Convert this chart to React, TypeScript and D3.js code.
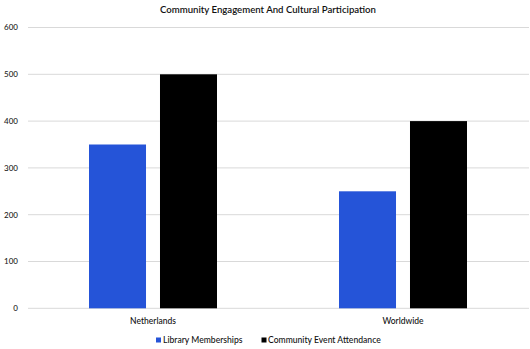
import React from "react";
import * as d3 from "d3";

const categories = ["Netherlands", "Worldwide"];
const seriesNames = ["Library Memberships", "Community Event Attendance"];
const libraryMemberships = [350, 250];
const eventAttendance = [500, 400];
const yTicks = [0, 100, 200, 300, 400, 500, 600];
const colors = ["#2554D8", "#000000"];
const title = "Community Engagement And Cultural Participation";

const W = 530;
const H = 349;
const FONT = "Lato, 'Noto Sans', sans-serif";

export default function App() {
  const left = 28;
  const right = 528;
  const top = 27.5;
  const bottom = 308.3;

  const x0 = d3.scaleBand<string>().domain(categories).range([left, right]).paddingInner(0.488).paddingOuter(0.244);
  const x1 = d3.scaleBand<string>().domain(seriesNames).range([0, x0.bandwidth()]).paddingInner(0.197).paddingOuter(0);
  const y = d3.scaleLinear().domain([0, 600]).range([bottom, top]);
  const values = [libraryMemberships, eventAttendance];

  return (
    <svg width={W} height={H} style={{ position: "absolute", left: 0, top: 0, background: "#fff" }}>
      <text x={268} y={13} textAnchor="middle" fontFamily={FONT} fontSize={9.6} fontWeight={600} fill="#111">
        {title}
      </text>
      {yTicks.map((t) => (
        <g key={t}>
          <line x1={left} x2={right + 1} y1={y(t)} y2={y(t)} stroke="#d9d9d9" strokeWidth={1} />
          <text x={18} y={y(t)} dy="0.35em" textAnchor="end" fontFamily={FONT} fontSize={8} fontWeight={500} fill="#222">
            {t}
          </text>
        </g>
      ))}
      {categories.map((c, ci) => (
        <g key={c}>
          {seriesNames.map((s, si) => (
            <rect
              key={s}
              x={(x0(c) as number) + (x1(s) as number)}
              y={y(values[si][ci])}
              width={x1.bandwidth()}
              height={bottom - y(values[si][ci])}
              fill={colors[si]}
            />
          ))}
          <text
            x={(x0(c) as number) + x0.bandwidth() / 2}
            y={321}
            dy="0.35em"
            textAnchor="middle"
            fontFamily={FONT}
            fontSize={8.5}
            fontWeight={500}
            fill="#111"
          >
            {c}
          </text>
        </g>
      ))}
      <g>
        <rect x={156} y={337.5} width={5} height={5} fill={colors[0]} />
        <text x={163} y={340} dy="0.35em" fontFamily={FONT} fontSize={8.6} fontWeight={500} fill="#111">
          {seriesNames[0]}
        </text>
        <rect x={261.5} y={337.5} width={5} height={5} fill={colors[1]} />
        <text x={268} y={340} dy="0.35em" fontFamily={FONT} fontSize={8.6} fontWeight={500} fill="#111">
          {seriesNames[1]}
        </text>
      </g>
    </svg>
  );
}
